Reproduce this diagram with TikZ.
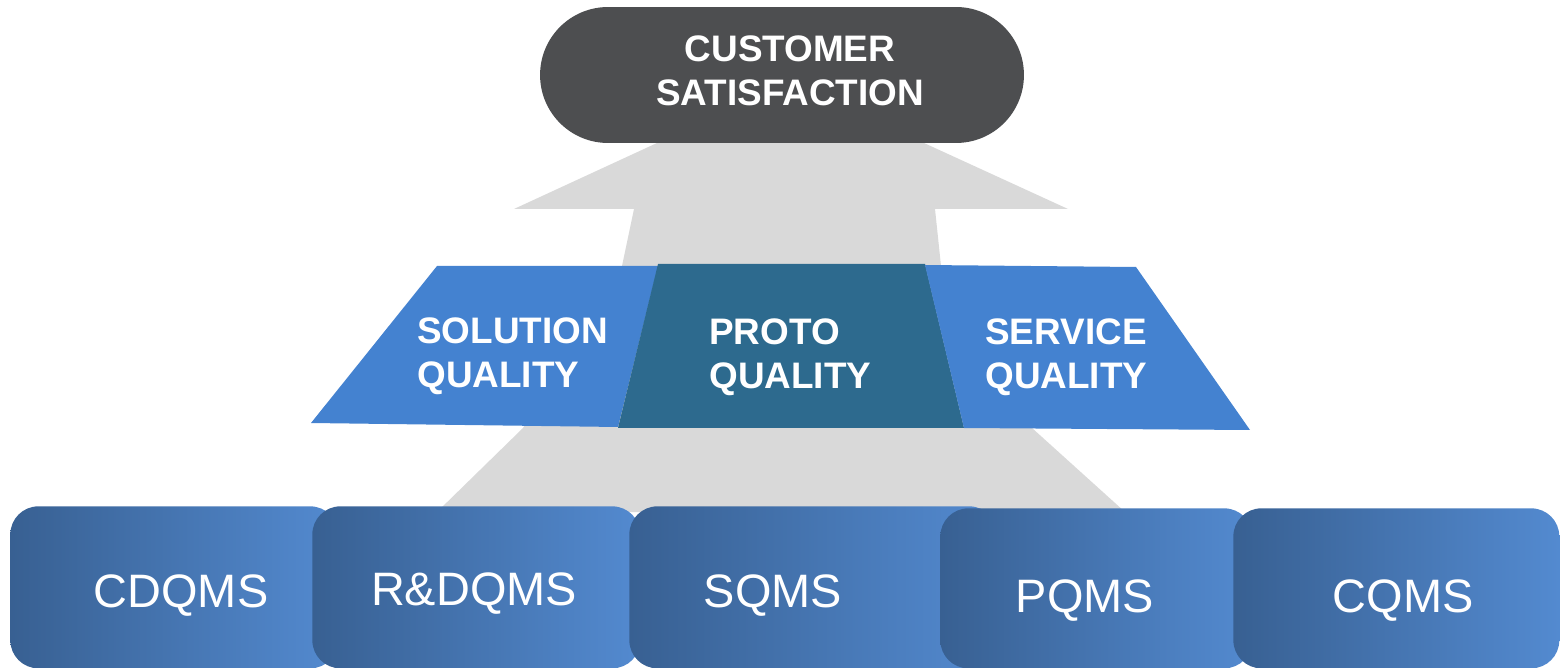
\documentclass[tikz,border=0pt]{standalone}
\usepackage{fontspec}
\setmainfont{Liberation Sans}
\usepackage{xcolor}
\definecolor{pillgray}{RGB}{77,78,80}
\definecolor{arrowgray}{RGB}{217,217,217}
\definecolor{qblue}{RGB}{68,130,208}
\definecolor{qteal}{RGB}{45,106,142}
\definecolor{boxdark}{RGB}{56,96,146}
\definecolor{boxlight}{RGB}{83,138,208}

\begin{document}
\begin{tikzpicture}[x=0.02cm,y=-0.02cm,
    top node/.style={rounded corners=1.36cm,fill=pillgray,minimum width=9.68cm,minimum height=2.72cm},
    big label/.style={text=white,font=\fontsize{21}{25}\selectfont\bfseries,align=left,inner sep=0pt},
    qms box/.style={rounded corners=0.56cm,left color=boxdark,right color=boxlight,anchor=north west,inner sep=0pt},
    qms label/.style={text=white,font=\fontsize{26.7}{30}\selectfont,anchor=base,inner sep=0pt}]

  \useasboundingbox (0,0) rectangle (1561,668);

  % gray arrow behind everything
  \fill[arrowgray] (437,512) -- (523,428) -- (622,266) -- (634,209) -- (514,209)
    -- (657,143) -- (924,143) -- (1068,209) -- (935,209) -- (941,266)
    -- (1032,428) -- (1125,512) -- cycle;

  \node[top node] (customer) at (782,75) {};
  \node[big label,align=center] (customer label) at (790,71) {CUSTOMER\\SATISFACTION};

  \fill[qblue] (311,423) -- (437,266) -- (658,266) -- (618,427) -- cycle;
  \fill[qteal] (618,428) -- (658,264) -- (925,264) -- (964,428) -- cycle;
  \fill[qblue] (964,428) -- (925,265) -- (1136,267) -- (1250,430) -- cycle;

  \node[big label,anchor=west] (solution) at (417,356) {SOLUTION\\QUALITY};
  \node[big label,anchor=west] (proto) at (709,357) {PROTO\\QUALITY};
  \node[big label,anchor=west] (service) at (985,357) {SERVICE\\QUALITY};

  \node[qms box,minimum width=6.56cm,minimum height=3.24cm] (cdqms box) at (10,506) {};
  \node[qms label] (cdqms) at (181,607) {CDQMS};
  \node[qms box,minimum width=6.56cm,minimum height=3.24cm] (rdqms box) at (312,506) {};
  \node[qms label] (rdqms) at (474,605) {R\&DQMS};
  \node[qms box,minimum width=7.36cm,minimum height=3.24cm] (sqms box) at (629,506) {};
  \node[qms label] (sqms) at (773,607) {SQMS};
  \node[qms box,minimum width=6.24cm,minimum height=3.2cm] (pqms box) at (940,508) {};
  \node[qms label] (pqms) at (1085,612) {PQMS};
  \node[qms box,minimum width=6.52cm,minimum height=3.2cm] (cqms box) at (1233,508) {};
  \node[qms label] (cqms) at (1403,612) {CQMS};
\end{tikzpicture}
\end{document}
